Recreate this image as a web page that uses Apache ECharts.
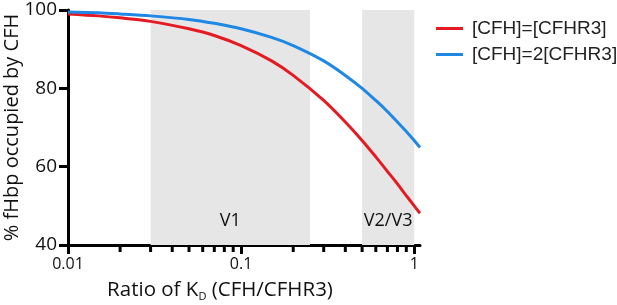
<!DOCTYPE html>
<html>
<head>
<meta charset="utf-8">
<script src="https://cdn.jsdelivr.net/npm/echarts@6/dist/echarts.min.js"></script>
<style>
  html, body { margin: 0; padding: 0; background: #fff; }
  #chart { width: 617px; height: 305px; }
</style>
</head>
<body>
<div id="chart"></div>
<script>
// ratio of KD (CFH/CFHR3)
const ratios = [0.01, 0.015, 0.02, 0.03, 0.05, 0.07, 0.1, 0.15, 0.2, 0.3, 0.4, 0.5, 0.6, 0.7, 0.8, 0.9, 1.0, 1.08]
const equalConc = [99.0, 98.5, 98.0, 97.1, 95.2, 93.5, 90.9, 87.0, 83.3, 76.9, 71.4, 66.7, 62.5, 58.8, 55.6, 52.6, 50.0, 48.1]
const doubleConc = [99.5, 99.3, 99.0, 98.5, 97.6, 96.6, 95.2, 93.0, 90.9, 87.0, 83.3, 80.0, 76.9, 74.1, 71.4, 69.0, 66.7, 64.9]
const minorTicks = [0.02, 0.03, 0.04, 0.05, 0.06, 0.07, 0.08, 0.09, 0.2, 0.3, 0.4, 0.5, 0.6, 0.7, 0.8, 0.9]
const bands = [
  { name: 'V1', from: 0.03, to: 0.25 },
  { name: 'V2/V3', from: 0.5, to: 1.0 }
]

const axisFont = '"Open Sans", sans-serif'
const chart = echarts.init(document.getElementById('chart'))

chart.setOption({
  animation: false,
  grid: { left: 68, right: 197, top: 10, bottom: 60, outerBoundsMode: 'none' },
  legend: {
    orient: 'vertical',
    left: 431,
    top: 14,
    icon: 'rect',
    itemWidth: 27,
    itemHeight: 3,
    itemGap: 7,
    textStyle: { fontFamily: '"Liberation Sans", Arial, sans-serif', fontSize: 19, color: '#222', padding: [0, 0, 0, 4] },
    data: ['[CFH]=[CFHR3]', '[CFH]=2[CFHR3]']
  },
  xAxis: {
    type: 'log',
    logBase: 10,
    min: 0.01,
    max: 1.08,
    splitLine: { show: false },
    axisLine: { lineStyle: { color: '#000', width: 3 } },
    axisTick: { inside: false, length: 9, lineStyle: { width: 3, color: '#000' } },
    axisLabel: {
      fontFamily: axisFont, fontSize: 16, color: '#111', margin: 11,
      formatter: v => (v >= 1 ? '1' : String(+v.toPrecision(2)))
    },
    name: 'Ratio of K{sub|D} (CFH/CFHR3)',
    nameLocation: 'middle',
    nameGap: 33,
    nameTextStyle: {
      fontFamily: axisFont, fontSize: 20.5, color: '#111', padding: [0, 48, 0, 0],
      rich: { sub: { fontFamily: axisFont, fontSize: 11, verticalAlign: 'bottom', padding: [13, 0, 0, 0], color: '#111' } }
    }
  },
  yAxis: {
    type: 'value',
    min: 40,
    max: 100,
    interval: 20,
    splitLine: { show: false },
    axisLine: { show: true, lineStyle: { color: '#000', width: 3 } },
    axisTick: { show: true, length: 9, lineStyle: { width: 3, color: '#000' } },
    axisLabel: { fontFamily: axisFont, fontSize: 19, color: '#111', margin: 11 },
    name: '% fHbp occupied by CFH',
    nameLocation: 'middle',
    nameGap: 46,
    nameMoveOverlap: false,
    nameTextStyle: { fontFamily: axisFont, fontSize: 20, color: '#111' }
  },
  series: [
    {
      name: '[CFH]=[CFHR3]',
      type: 'line',
      smooth: 0.3,
      symbol: 'none',
      z: 3,
      lineStyle: { color: '#e41b22', width: 3 },
      itemStyle: { color: '#e41b22' },
      data: ratios.map((r, i) => [r, equalConc[i]]),
      markArea: {
        silent: true,
        itemStyle: { color: '#e6e6e6' },
        label: {
          position: 'insideBottom', distance: 15,
          fontFamily: axisFont, fontSize: 18, color: '#111'
        },
        data: bands.map(b => [{ name: b.name, xAxis: b.from }, { xAxis: b.to }])
      }
    },
    {
      name: '[CFH]=2[CFHR3]',
      type: 'line',
      smooth: 0.3,
      symbol: 'none',
      z: 3,
      lineStyle: { color: '#1f88e5', width: 3 },
      itemStyle: { color: '#1f88e5' },
      data: ratios.map((r, i) => [r, doubleConc[i]])
    },
    {
      // minor log ticks under the x axis
      type: 'custom',
      silent: true,
      clip: false,
      z: 5,
      data: minorTicks.map(t => [t, 40]),
      renderItem: (params, api) => {
        const p = api.coord([api.value(0), 40])
        return {
          type: 'line',
          shape: { x1: p[0], y1: p[1], x2: p[0], y2: p[1] + 7 },
          style: { stroke: '#000', lineWidth: 3 }
        }
      }
    }
  ]
})
</script>
</body>
</html>
